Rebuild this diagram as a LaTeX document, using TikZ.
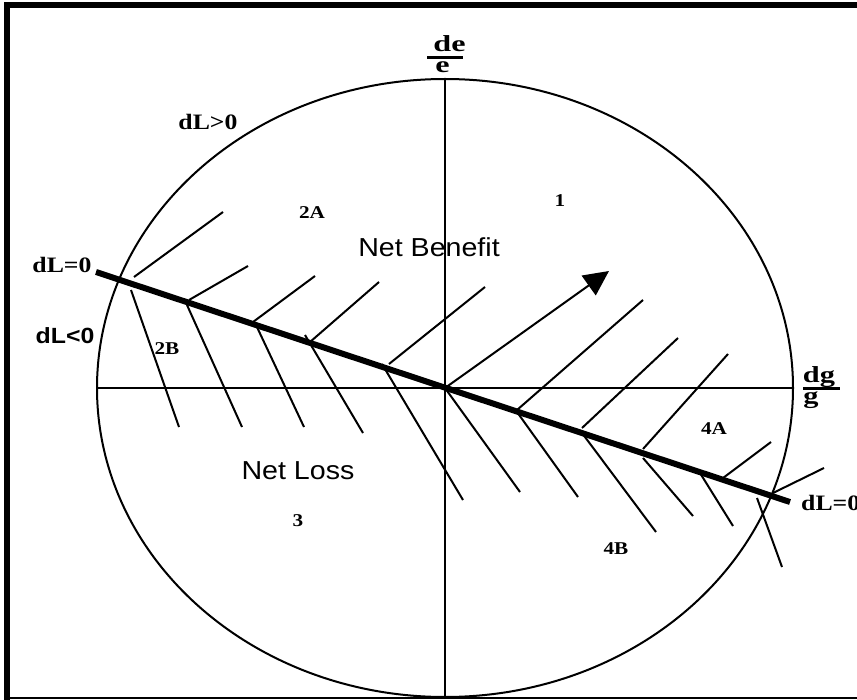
\documentclass[tikz,border=0pt]{standalone}
\usepackage{fontspec}
\setmainfont{Liberation Serif}
\setsansfont{Liberation Sans}
\usetikzlibrary{arrows.meta}
\newcommand{\wide}[2][1.15]{\scalebox{#1}[1]{#2}}

\begin{document}
\begin{tikzpicture}[x=1pt, y=-1pt,
    axis/.style={line width=2pt},
    hatch/.style={line width=2pt},
    contour/.style={line width=6pt},
    bar/.style={line width=2.8pt},
    zone/.style={font={\fontsize{18}{20}\selectfont\bfseries}},
    side/.style={font={\fontsize{22}{24}\selectfont\bfseries}},
    region/.style={font={\fontsize{26}{28}\selectfont\sffamily}},
    ratio/.style={font={\fontsize{23}{25}\selectfont\bfseries}, inner sep=0pt, anchor=base}
]
    \useasboundingbox (0,0) rectangle (857,700);
    % frame
    \draw[line width=6pt] (7,701) -- (7,5) -- (857,5);
    \draw[line width=2pt] (7,698) -- (857,698);

    % ellipse and axes
    \coordinate (O) at (445,388);
    \coordinate (gw) at (97,388);
    \coordinate (ge) at (793,388);
    \coordinate (en) at (445,79);
    \coordinate (es) at (445,697);
    \draw[axis] (O) ellipse [x radius=348, y radius=309];
    \draw[axis] (gw) -- (ge);
    \draw[axis] (en) -- (es);

    % hatching above and below the contour
    \foreach \xa/\ya/\xb/\yb in {134/277/223/212, 189/300/248/266, 253/322/315/276, 310/342/379/282,
                       389/364/485/287, 517/410/643/300, 582/428/678/338, 643/449/728/354,
                       723/478/771/442, 773/493/824/468}
        \draw[hatch] (\xa,\ya) -- (\xb,\yb);
    \foreach \xa/\ya/\xb/\yb in {131/290/179/427, 187/305/242/427, 256/325/304/427, 305/335/363/433,
                       382/364/463/500, 445/388/520/492, 517/412/578/497, 582/433/656/532,
                       643/458/693/516, 700/473/733/526, 757/498/782/567}
        \draw[hatch] (\xa,\ya) -- (\xb,\yb);

    % dL=0 contour and direction
    \coordinate (Lw) at (96,272);
    \coordinate (Le) at (790,502);
    \draw[contour] (Lw) -- (Le);
    \coordinate (tip) at (609,271);
    \draw[hatch, -{Triangle[length=25pt, width=24pt]}] (O) -- (tip);

    % axis labels
    \node[ratio] (de) at (449.5,52) {\wide[1.4]{de}};
    \node[ratio] (e) at (442.5,73) {\wide[1.4]{e}};
    \draw[bar] (427,57.5) -- (463,57.5);
    \node[ratio] (dg) at (819,383) {\wide[1.32]{dg}};
    \node[ratio] (g) at (811,404) {\wide[1.32]{g}};
    \draw[bar] (803,388.5) -- (840,388.5);

    % contour labels
    \node[side] (Lpos) at (208,122) {\wide[1.17]{dL>0}};
    \node[side] (Lzw) at (62,265) {\wide[1.17]{dL=0}};
    \node[font={\fontsize{22}{24}\selectfont\sffamily\bfseries}] (Lneg) at (65,336) {\wide[1.13]{dL<0}};
    \node[side, anchor=west, inner sep=0pt] (Lze) at (801,503) {\wide[1.17]{dL=0}};

    % regions
    \node[region] (gain) at (429,247) {\wide[1.1]{Net Benefit}};
    \node[region] (loss) at (298,471) {\wide[1.1]{Net Loss}};
    \node[zone] (r1) at (560,201) {\wide[1.18]{1}};
    \node[zone] (r2a) at (312,213) {\wide[1.18]{2A}};
    \node[zone] (r2b) at (167,349) {\wide[1.18]{2B}};
    \node[zone] (r3) at (298,521) {\wide[1.18]{3}};
    \node[zone] (r4a) at (714,429) {\wide[1.18]{4A}};
    \node[zone] (r4b) at (616,549) {\wide[1.18]{4B}};
\end{tikzpicture}
\end{document}
